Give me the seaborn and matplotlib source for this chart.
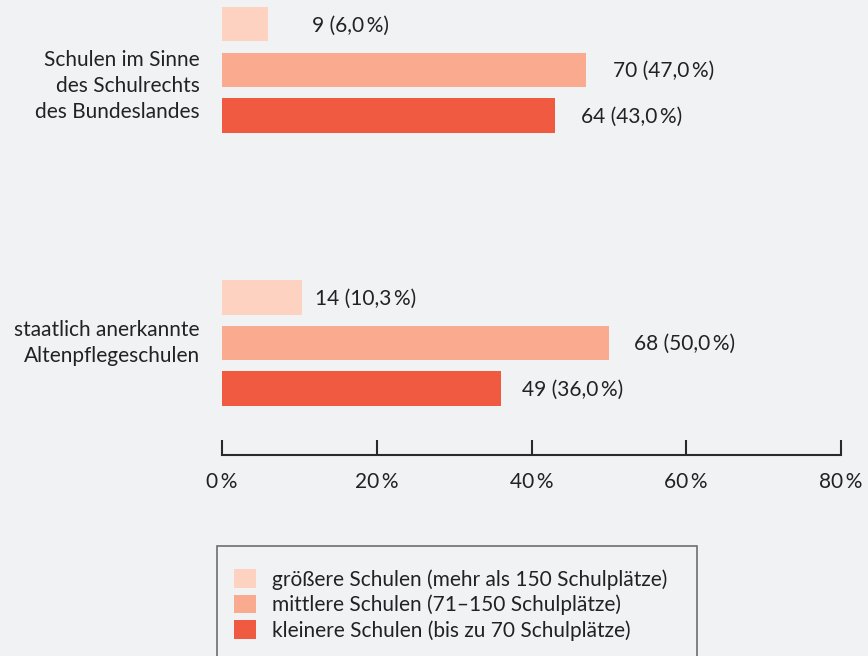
import matplotlib
matplotlib.use("Agg")
import matplotlib.pyplot as plt
from matplotlib.patches import Rectangle
from matplotlib.transforms import blended_transform_factory
import pandas as pd
import seaborn as sns

# --- data -------------------------------------------------------------
categories = [
    "Schulen im Sinne\ndes Schulrechts\ndes Bundeslandes",
    "staatlich anerkannte\nAltenpflegeschulen",
]
sizes = [
    "größere Schulen (mehr als 150 Schulplätze)",
    "mittlere Schulen (71–150 Schulplätze)",
    "kleinere Schulen (bis zu 70 Schulplätze)",
]
counts_bundesland = [9, 70, 64]
pct_bundesland = [6.0, 47.0, 43.0]
counts_staatlich = [14, 68, 49]
pct_staatlich = [10.3, 50.0, 36.0]
x_ticks = [0, 20, 40, 60, 80]

# --- style ------------------------------------------------------------
BG = "#f1f2f4"
TEXT = "#222222"
palette = ["#fdd2c0", "#f9aa8f", "#f05a40"]

sns.set_theme(style="white")
plt.rcParams["font.family"] = ["Lato", "DejaVu Sans"]
plt.rcParams["text.color"] = TEXT
FS = 15

rows = []
for cat, cnts, pcts in [(categories[0], counts_bundesland, pct_bundesland),
                        (categories[1], counts_staatlich, pct_staatlich)]:
    for s, n, p in zip(sizes, cnts, pcts):
        rows.append({"Schulart": cat, "Größe": s, "Anzahl": n, "Anteil": p})
df = pd.DataFrame(rows)

W, H = 868, 656
fig = plt.figure(figsize=(W / 100, H / 100), dpi=100, facecolor=BG)
ax = fig.add_axes([222 / W, (H - 455) / H, 619 / W, 455 / H], facecolor=BG)

sns.barplot(data=df, x="Anteil", y="Schulart", hue="Größe",
            order=categories, hue_order=sizes, palette=palette,
            saturation=1, orient="h", width=0.5, gap=0.25, linewidth=0,
            ax=ax, legend=False)

ax.set_xlim(0, 80)
ax.set_ylim(1.41, -0.256)
ax.set_xlabel("")
ax.set_ylabel("")
ax.set_yticks([])

for side in ["top", "right", "left"]:
    ax.spines[side].set_visible(False)
ax.spines["bottom"].set_color("#2a2a2a")
ax.spines["bottom"].set_linewidth(1.5)
ax.set_xticks(x_ticks)
ax.set_xticklabels([f"{t}\u2009%" for t in x_ticks], fontsize=FS, color=TEXT)
ax.tick_params(axis="x", direction="in", length=11, width=1.5,
               color="#2a2a2a", pad=12, bottom=True)

# value labels at the end of each bar
label_dx = [44, 27, 26, 13, 25, 21]
containers = ax.containers
for ci, (cnts, pcts) in enumerate([(counts_bundesland, pct_bundesland),
                                   (counts_staatlich, pct_staatlich)]):
    for hi in range(len(sizes)):
        bar = containers[hi][ci]
        y = bar.get_y() + bar.get_height() / 2
        n, p = cnts[hi], pcts[hi]
        txt = f"{n} ({p:.1f}\u2009%)".replace(".", ",")
        ax.annotate(txt, xy=(bar.get_width(), y), xytext=(label_dx[ci * 3 + hi], -1),
                    textcoords="offset pixels", ha="left", va="center",
                    fontsize=FS, color=TEXT)

# category labels on the left
cat_dy = [-16, 0]
trans = blended_transform_factory(ax.transAxes, ax.transData)
for i, cat in enumerate(categories):
    ax.annotate(cat, xy=(0, i), xycoords=trans, xytext=(-22, cat_dy[i]),
                textcoords="offset pixels", ha="right", va="center",
                fontsize=FS, color=TEXT, linespacing=1.37, annotation_clip=False)

# legend with an outlined box
handles = [Rectangle((0, 0), 1, 1, facecolor=c, edgecolor="none") for c in palette]
fig.legend(handles, sizes, loc="upper left",
           bbox_to_anchor=(234 / W, 1 - 569 / H), frameon=False,
           borderpad=0, borderaxespad=0, fontsize=FS,
           handlelength=1.06, handleheight=1.01, handletextpad=0.77,
           labelspacing=0.24, labelcolor=TEXT)
fig.patches.append(Rectangle((217 / W, -0.05), 480 / W, (H - 546) / H + 0.05,
                             transform=fig.transFigure, facecolor="none",
                             edgecolor="#6e6e6e", linewidth=1.2))

fig.savefig("out.png", dpi=100, facecolor=BG)
